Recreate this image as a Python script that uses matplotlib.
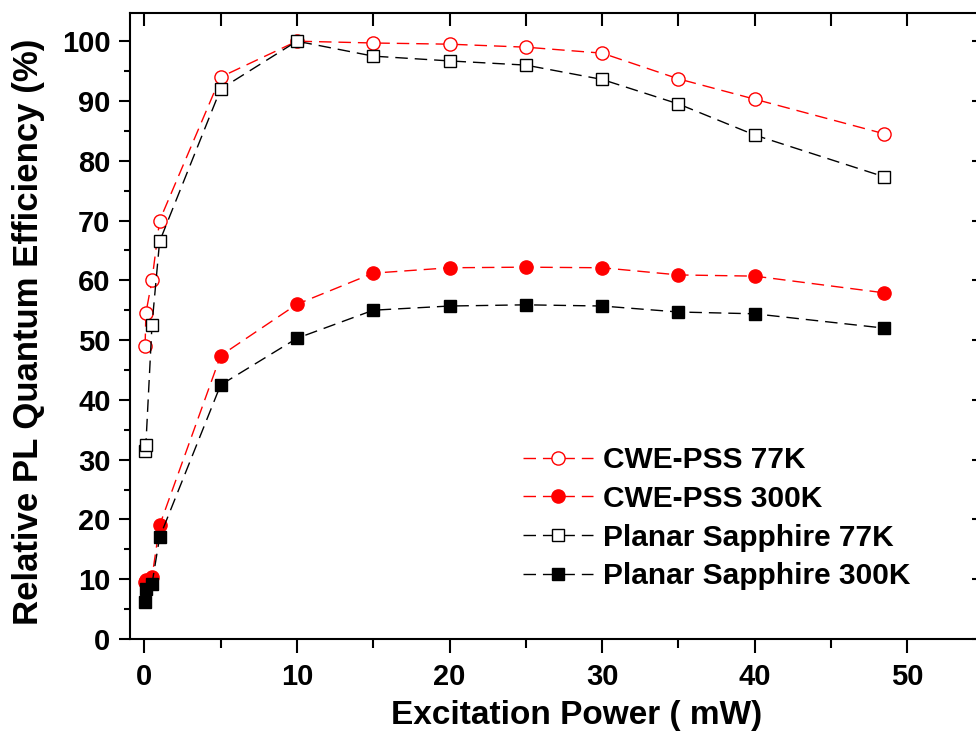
import matplotlib
matplotlib.use('Agg')
import matplotlib.pyplot as plt
from matplotlib.ticker import MultipleLocator

plt.rcParams['font.family'] = ['Liberation Sans', 'DejaVu Sans']
plt.rcParams['font.weight'] = 'bold'

power = [0.05, 0.1, 0.5, 1, 5, 10, 15, 20, 25, 30, 35, 40, 48.5]
cwe_77k = [49, 54.5, 60, 70, 94, 100, 99.7, 99.5, 99, 98, 93.7, 90.3, 84.5]
cwe_300k = [9.5, 9.8, 10.3, 19, 47.4, 56, 61.2, 62.1, 62.2, 62.1, 60.9, 60.7, 57.9]
planar_77k = [31.5, 32.5, 52.5, 66.5, 92, 100, 97.5, 96.7, 96, 93.6, 89.5, 84.3, 77.3]
planar_300k = [6.2, 8.3, 9.2, 17, 42.5, 50.3, 55, 55.7, 55.9, 55.7, 54.7, 54.4, 52]

W, H = 976, 733
fig = plt.figure(figsize=(W / 100, H / 100), dpi=100)
# axes box in pixels: left 130, right 980, top 12.5, bottom 639
ax = fig.add_axes([130 / W, (H - 639) / H, (980 - 130) / W, (639 - 12.5) / H])

dash = (9, 5)
ax.plot(power, cwe_77k, color='red', ls='--', dashes=dash, lw=1.0,
        marker='o', ms=9.5, mfc='white', mec='red', mew=1.0, label='CWE-PSS 77K')
ax.plot(power, cwe_300k, color='red', ls='--', dashes=dash, lw=1.0,
        marker='o', ms=9.5, mfc='red', mec='red', mew=1.0, label='CWE-PSS 300K')
ax.plot(power, planar_77k, color='black', ls='--', dashes=dash, lw=1.0,
        marker='s', ms=8, mfc='white', mec='black', mew=1.0, label='Planar Sapphire 77K')
ax.plot(power, planar_300k, color='black', ls='--', dashes=dash, lw=1.0,
        marker='s', ms=8, mfc='black', mec='black', mew=1.0, label='Planar Sapphire 300K')

ax.set_xlim(-0.94, 54.76)
ax.set_ylim(0, 104.8)
ax.xaxis.set_major_locator(MultipleLocator(10))
ax.xaxis.set_minor_locator(MultipleLocator(5))
ax.yaxis.set_major_locator(MultipleLocator(10))
ax.yaxis.set_minor_locator(MultipleLocator(5))

for s in ax.spines.values():
    s.set_linewidth(1.5)

ax.tick_params(axis='x', which='major', direction='out', length=10, width=1.5,
               labelsize=21, pad=7, top=True)
ax.tick_params(axis='x', which='minor', direction='out', length=6.5, width=1.5, top=True)
ax.tick_params(axis='y', which='major', direction='out', length=8, width=1.5,
               labelsize=21, pad=6, right=True)
ax.tick_params(axis='y', which='minor', direction='out', length=4, width=1.5)
# top and right ticks point inward
for t in ax.xaxis.get_major_ticks() + ax.xaxis.get_minor_ticks():
    t.tick2line.set_marker(3)
    t.tick2line.set_markersize(9)
for t in ax.yaxis.get_major_ticks():
    t.tick2line.set_marker(0)
    t.tick2line.set_markersize(6)
ax.tick_params(axis='y', which='minor', right=False)

ax.set_xlabel('Excitation Power ( mW)', fontsize=24, fontweight='bold')
ax.xaxis.set_label_coords((577 - 130) / 850, (639 - 700) / 626.5)
ax.set_ylabel('Relative PL Quantum Efficiency (%)', fontsize=25, fontweight='bold')
ax.yaxis.set_label_coords((45 - 130) / 850, 0.49)

ax.legend(loc='upper left', bbox_to_anchor=(523 / W, 1 - 446 / H),
          bbox_transform=fig.transFigure, frameon=False,
          handlelength=2.35, handletextpad=0.33, labelspacing=0.36,
          borderpad=0, borderaxespad=0, prop={'weight': 'bold', 'size': 21.5})

fig.savefig('out.png', dpi=100)
